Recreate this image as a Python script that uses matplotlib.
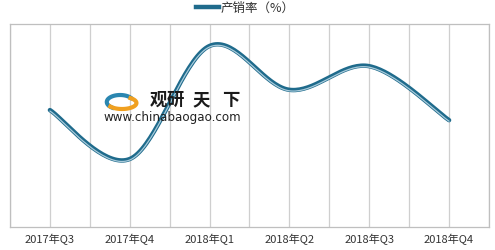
import numpy as np
import matplotlib
matplotlib.use("Agg")
import matplotlib.pyplot as plt
from matplotlib.lines import Line2D

plt.rcParams['font.family'] = ['Noto Sans CJK SC', 'DejaVu Sans']

categories = ["2017年Q3", "2017年Q4", "2018年Q1", "2018年Q2", "2018年Q3", "2018年Q4"]
values = [94.9, 92.0, 98.7, 96.1, 97.5, 94.3]
series_name = "产销率（%）"


def smooth(xs, ys, n=40):
    # Excel-style smoothed line: cubic Bezier with Catmull-Rom control points
    xs = np.asarray(xs, float)
    ys = np.asarray(ys, float)
    px = np.concatenate([[xs[0]], xs, [xs[-1]]])
    py = np.concatenate([[ys[0]], ys, [ys[-1]]])
    ox, oy = [], []
    for i in range(1, len(px) - 2):
        p0 = np.array([px[i], py[i]])
        p3 = np.array([px[i + 1], py[i + 1]])
        c1 = p0 + (np.array([px[i + 1], py[i + 1]]) - np.array([px[i - 1], py[i - 1]])) / 6
        c2 = p3 - (np.array([px[i + 2], py[i + 2]]) - np.array([px[i], py[i]])) / 6
        t = np.linspace(0, 1, n)[:, None]
        pts = (1 - t) ** 3 * p0 + 3 * (1 - t) ** 2 * t * c1 + 3 * (1 - t) * t ** 2 * c2 + t ** 3 * p3
        ox.extend(pts[:, 0])
        oy.extend(pts[:, 1])
    return np.array(ox), np.array(oy)


fig = plt.figure(figsize=(4.95, 2.5), dpi=100)
ax = fig.add_axes([10 / 495, 1 - 226.5 / 250, 479 / 495, 202.5 / 250])

x = np.arange(len(categories))
for g in np.arange(-0.5, len(categories), 0.5):
    ax.axvline(g, color="#cfcfcf", lw=0.9, zorder=0)

sx, sy = smooth(x, values)
ax.plot(sx, sy, color="#1f6b8c", lw=3.2, solid_capstyle="round", zorder=3)
ax.plot(sx, sy - 0.06, color="#a9cbdb", lw=0.9, solid_capstyle="round", zorder=4)

ax.set_xlim(-0.5, len(categories) - 0.5)
ax.set_ylim(88, 100)
ax.set_yticks([])
ax.set_xticks(x)
ax.set_xticklabels(categories, fontsize=8, color="#333333")
ax.tick_params(axis="x", length=0, pad=5)
for s in ax.spines.values():
    s.set_color("#bfbfbf")
    s.set_linewidth(0.9)

# legend
h = Line2D([], [], color="#1f6b8c", lw=3.2)
leg = fig.legend([h], [series_name], loc="center", bbox_to_anchor=(0.495, 1 - 8 / 250),
                 frameon=False, fontsize=9, handlelength=1.9, handletextpad=0.1,
                 borderaxespad=0, borderpad=0)
for t in leg.get_texts():
    t.set_color("#333333")

# watermark
for ch, cx in zip("观研天下", [158, 175.5, 201, 231]):
    fig.text(cx / 495, 1 - 100 / 250, ch, fontsize=12.5, fontweight="bold",
             color="#1a1a1a", va="center", ha="center", zorder=5)
fig.text(103 / 495, 1 - 117 / 250, "www.chinabaogao.com", fontsize=8.6,
         color="#222222", va="center", ha="left", family="DejaVu Sans", zorder=5)
wax = fig.add_axes([103 / 495, 1 - 112 / 250, 38 / 495, 20 / 250])
wax.axis("off")
th = np.linspace(0.2 * np.pi, 1.3 * np.pi, 50)
wax.plot(0.45 + 0.35 * np.cos(th), 0.5 + 0.35 * np.sin(th), color="#2a86b0", lw=3)
th2 = np.linspace(1.2 * np.pi, 2.3 * np.pi, 50)
wax.plot(0.5 + 0.38 * np.cos(th2), 0.45 + 0.3 * np.sin(th2), color="#f0a020", lw=3)
wax.set_xlim(0, 1)
wax.set_ylim(0, 1)

fig.savefig("out.png", dpi=100)
